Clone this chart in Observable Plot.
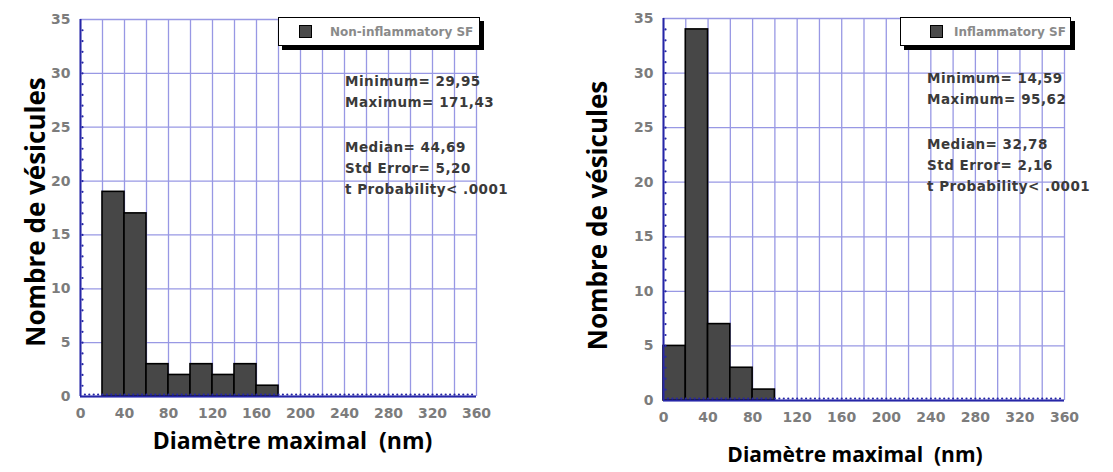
<!DOCTYPE html>
<html><head><meta charset="utf-8">
<script src="https://cdn.jsdelivr.net/npm/d3@7"></script>
<script src="https://cdn.jsdelivr.net/npm/@observablehq/plot@0.6"></script>
<style>
body{margin:0;background:#fff;}
#wrap{position:relative;width:1113px;height:472px;overflow:hidden;background:#fff;}
.panel{position:absolute;top:0;}
.legend{position:absolute;background:#fff;border:1.5px solid #000;box-shadow:4px 4px 0 #000;font-family:"DejaVu Sans";font-weight:bold;font-size:12px;color:#8a8a8a;display:flex;align-items:center;box-sizing:border-box;height:29px;}
.legend .sw{width:13px;height:13px;background:#4a4a4a;border:1.5px solid #000;box-sizing:border-box;}
.stats{position:absolute;font-family:"DejaVu Sans";font-weight:bold;font-size:13.5px;letter-spacing:0.5px;color:#3a3a3a;line-height:21px;white-space:pre;}
</style></head>
<body><div id="wrap"></div>
<script>
// ---- data ----
const binStart = [0, 20, 40, 60, 80, 100, 120, 140, 160];
const binWidth = 20;
const nonInflammatoryCounts = [0, 19, 17, 3, 2, 3, 2, 3, 1];
const inflammatoryCounts = [5, 34, 7, 3, 1, 0, 0, 0, 0];
const xTicks = [0, 40, 80, 120, 160, 200, 240, 280, 320, 360];
const yTicks = [0, 5, 10, 15, 20, 25, 30, 35];
const xGrid = d3.range(0, 361, 20);
const yMinor = d3.range(1, 35, 1);
const xMinor = d3.range(4, 360, 4);
const legendNames = ["Non-inflammatory SF", "Inflammatory SF"];
const nonInflStatsA = ["Minimum= 29,95", "Maximum= 171,43"];
const nonInflStatsB = ["Median= 44,69", "Std Error= 5,20", "t Probability< .0001"];
const inflStatsA = ["Minimum= 14,59", "Maximum= 95,62"];
const inflStatsB = ["Median= 32,78", "Std Error= 2,16", "t Probability< .0001"];
const yTitle = "Nombre de vésicules";
const xTitle = "Diamètre maximal  (nm)";

const gridColor = "#9898e4";
const axisColor = "#2626a6";
const tickColor = "#7c7c7c";

function panel(counts, m, w, t) {
  const data = binStart.map((s, i) => ({x1: s, x2: s + binWidth, y: counts[i]})).filter(d => d.y > 0);
  return Plot.plot({
    width: w, height: 472,
    marginLeft: m.l, marginRight: m.r, marginTop: m.t, marginBottom: m.b,
    style: {fontFamily: "DejaVu Sans", fontSize: "14px", background: "transparent", overflow: "visible"},
    x: {domain: [0, 360], label: null},
    y: {domain: [0, 35], label: null},
    marks: [
      Plot.gridX(xGrid, {stroke: gridColor, strokeOpacity: 1, strokeWidth: 1.3}),
      Plot.gridY(yTicks, {stroke: gridColor, strokeOpacity: 1, strokeWidth: 1.3}),
      Plot.rectY(data, {x1: "x1", x2: "x2", y: "y", fill: "#474747", stroke: "#000", strokeWidth: 1.6}),
      Plot.ruleX([0], {stroke: axisColor, strokeWidth: 2}),
      Plot.ruleY([0], {stroke: axisColor, strokeWidth: 2}),
      Plot.dot(yMinor, {x: 0, y: d => d, r: 1.1, fill: axisColor, stroke: null, dx: 2}),
      Plot.dot(xMinor, {x: d => d, y: 0, r: 1.1, fill: axisColor, stroke: null, dy: -2}),
      Plot.axisX({ticks: xTicks, tickSize: 0, tickPadding: 12, fill: tickColor, fontWeight: "bold", fontSize: 14, label: null}),
      Plot.axisY({ticks: yTicks, tickSize: 0, tickPadding: 10, fill: tickColor, fontWeight: "bold", fontSize: 14, label: null}),
      Plot.text([yTitle], {frameAnchor: "left", textAnchor: "middle", rotate: -90, dx: t.ydx, dy: t.ydy, fontSize: 26, fontWeight: "bold", fontFamily: "Open Sans", fill: "#000"}),
      Plot.text([xTitle], {frameAnchor: "bottom", dx: t.xdx, dy: t.xdy, fontSize: t.xfs, fontWeight: "bold", fontFamily: "Open Sans", fill: "#000"})
    ]
  });
}

const wrap = document.getElementById("wrap");
function place(el, left) {
  const d = document.createElement("div");
  d.className = "panel"; d.style.left = left + "px";
  d.appendChild(el); wrap.appendChild(d);
}
place(panel(nonInflammatoryCounts, {l: 80, r: 80, t: 19, b: 76}, 556, {ydx: -44, ydy: 4, xdx: 14, xdy: 52, xfs: 23}), 0);
place(panel(inflammatoryCounts, {l: 107, r: 49, t: 18, b: 72}, 557, {ydx: -65, ydy: 6, xdx: -9, xdy: 61, xfs: 21}), 556);

function legend(name, left, top, width, swPad, gap) {
  const d = document.createElement("div");
  d.className = "legend";
  d.style.left = left + "px"; d.style.top = top + "px"; d.style.width = width + "px";
  d.style.paddingLeft = swPad + "px";
  const sw = document.createElement("div"); sw.className = "sw";
  const tx = document.createElement("span"); tx.textContent = name; tx.style.marginLeft = gap + "px";
  d.appendChild(sw); d.appendChild(tx); wrap.appendChild(d);
}
legend(legendNames[0], 278, 17, 202, 20, 18);
legend(legendNames[1], 900, 17, 171, 29, 11);

function stats(lines, left, top) {
  const d = document.createElement("div");
  d.className = "stats";
  d.style.left = left + "px"; d.style.top = top + "px";
  d.textContent = lines.join("\n");
  wrap.appendChild(d);
}
stats(nonInflStatsA, 345, 71);
stats(nonInflStatsB, 345, 137);
stats(inflStatsA, 927, 68);
stats(inflStatsB, 927, 134);
</script>
</body></html>
